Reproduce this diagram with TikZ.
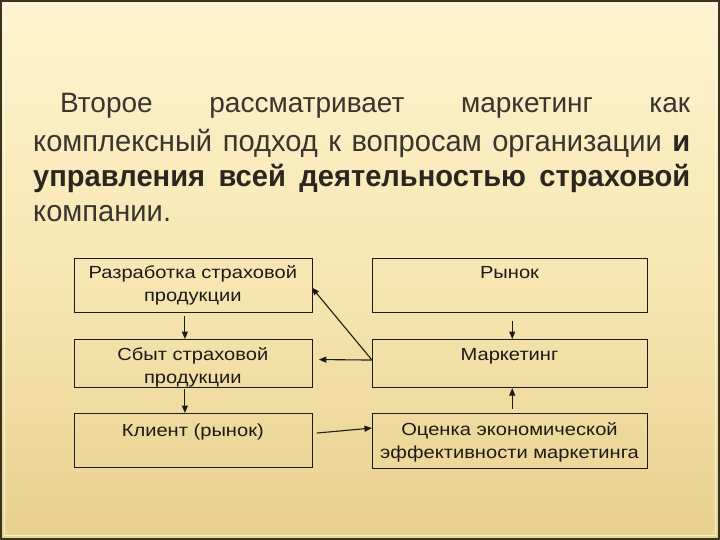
\documentclass[tikz,border=0pt]{standalone}
\usepackage{fontspec}
\setmainfont{Liberation Sans}
\newfontfamily\boxfont[FakeStretch=1.15]{Liberation Sans}
\newfontfamily\titlewide[FakeStretch=0.97]{Liberation Sans}
\usetikzlibrary{arrows.meta,calc}

\definecolor{bgtop}{HTML}{FEF3CF}
\definecolor{bgmid}{HTML}{F8E7B4}
\definecolor{bgbot}{HTML}{E8D08E}
\definecolor{framecol}{HTML}{3A3320}
\definecolor{ink}{HTML}{1E1B16}
\definecolor{titleink}{HTML}{3A352E}
\definecolor{boldink}{HTML}{2B261E}

\begin{document}
\begin{tikzpicture}[x=1pt,y=-1pt,
  box/.style={draw=ink, line width=1.1pt, inner sep=0pt, anchor=north west},
  leftbox/.style={box, minimum width=237.7pt},
  rightbox/.style={box, minimum width=275pt},
  boxtext/.style={anchor=base, inner sep=0pt, text=ink,
    font=\boxfont\fontsize{17.5}{23.5}\selectfont},
  titletext/.style={anchor=base west, inner sep=0pt, text=titleink,
    font=\fontsize{28}{34}\selectfont},
  titlewidetext/.style={titletext, font=\titlewide\fontsize{30}{34}\selectfont},
  arr/.style={draw=ink, line width=1.1pt, -{Triangle[length=7.5pt,width=6pt]}}
]
\useasboundingbox (0,0) rectangle (720,540);
% background
\shade[top color=bgtop, bottom color=bgbot, middle color=bgmid] (0,0) rectangle (720,540);
\draw[white, opacity=0.7, line width=0.8pt] (4.5,4.5) rectangle (715.5,535.5);
\draw[framecol, line width=2pt] (1,1) rectangle (719,539);

% title text
\node[titletext] (l1) at (60,113) {\makebox[630pt][s]{Второе рассматривает маркетинг как}};
\node[titlewidetext] (l2) at (33,152) {\makebox[657pt][s]{комплексный подход к вопросам организации \textbf{\color{boldink}и}}};
\node[titlewidetext, text=boldink] (l3) at (33,187) {\makebox[657pt][s]{\bfseries управления всей деятельностью страховой}};
\node[titlewidetext] (l4) at (33,222) {компании.};

% boxes
\node[leftbox, minimum height=54pt] (b1) at (74,258) {};
\node[leftbox, minimum height=48pt] (b2) at (74,339) {};
\node[leftbox, minimum height=54pt] (b3) at (74,413) {};
\node[rightbox, minimum height=54pt] (r1) at (372,258) {};
\node[rightbox, minimum height=48pt] (r2) at (372,339) {};
\node[rightbox, minimum height=55pt] (r3) at (372,413) {};

% box texts
\node[boxtext] (t1) at (192.8,278.3) {\parbox[t]{236pt}{\centering Разработка страховой\\продукции}};
\node[boxtext] (t2) at (192.8,360) {\parbox[t]{236pt}{\centering Сбыт страховой\\продукции}};
\node[boxtext] (t3) at (192.8,436.5) {Клиент (рынок)};
\node[boxtext] (tr1) at (509.5,278.3) {Рынок};
\node[boxtext] (tr2) at (509.5,360) {Маркетинг};
\node[boxtext] (tr3) at (509.5,435) {\parbox[t]{274pt}{\centering Оценка экономической\\эффективности маркетинга}};

% connectors
\draw[arr] ([shift={(-8.5,3)}]b1.south) -- ([shift={(-8.5,0)}]b2.north);
\draw[arr] ([shift={(-8.5,1)}]b2.south) -- ([shift={(-8.5,0)}]b3.north);
\draw[arr] ([shift={(4,-7.5)}]b3.east) -- ([shift={(0,-13)}]r3.west);
\draw[arr] ([shift={(0,-3.5)}]r2.west) -- ([shift={(-1,2)}]b1.east);
\draw[arr] ([shift={(0,-3.5)}]r2.west) -- ([shift={(6,-4)}]b2.east);
\draw[arr] ([shift={(2.2,8)}]r1.south) -- ([shift={(2.2,0)}]r2.north);
\draw[arr] ([shift={(2.2,-4)}]r3.north) -- ([shift={(2.2,0)}]r2.south);
\end{tikzpicture}
\end{document}
